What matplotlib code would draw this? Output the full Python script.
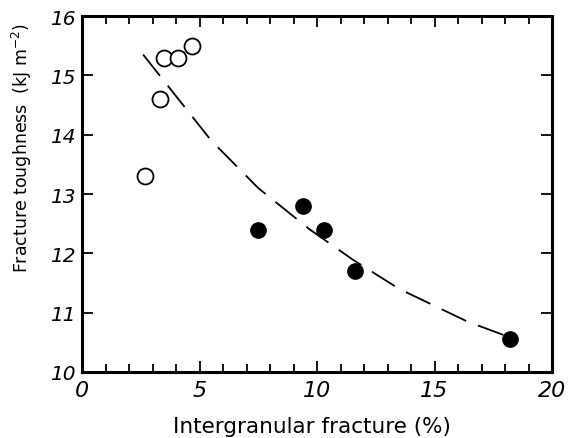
import matplotlib
matplotlib.use("Agg")
import matplotlib.pyplot as plt
from matplotlib.ticker import MultipleLocator

# open circles
open_x = [2.7, 3.3, 3.5, 4.1, 4.7]
open_y = [13.3, 14.6, 15.3, 15.3, 15.5]

# filled circles
fill_x = [7.5, 9.4, 10.3, 11.6, 18.2]
fill_y = [12.4, 12.8, 12.4, 11.7, 10.55]

# dashed trend line
curve_x = [2.6, 3.7, 5.5, 7.5, 9.7, 11.5, 13.5, 16.4, 18.1]
curve_y = [15.35, 14.8, 13.9, 13.1, 12.4, 11.9, 11.4, 10.85, 10.6]

fig = plt.figure(figsize=(5.72, 4.39), dpi=100)
ax = fig.add_axes([82 / 572, 1 - 373 / 439, 470 / 572, 356 / 439])

ax.plot(curve_x, curve_y, color='black', lw=1.3, dashes=(15, 7))
ax.plot(open_x, open_y, 'o', ms=11.5, mfc='white', mec='black', mew=1.3)
ax.plot(fill_x, fill_y, 'o', ms=11, mfc='black', mec='black')

ax.set_xlim(0, 20)
ax.set_ylim(10, 16)
ax.xaxis.set_major_locator(MultipleLocator(5))
ax.xaxis.set_minor_locator(MultipleLocator(1))
ax.yaxis.set_major_locator(MultipleLocator(1))
ax.tick_params(which='both', direction='in', top=True, right=True, width=1.3)
ax.tick_params(which='major', length=8)
ax.tick_params(which='minor', length=6)
ax.tick_params(axis='x', labelsize=16, pad=6)
ax.tick_params(axis='y', labelsize=14.5, pad=5)
for lab in ax.get_xticklabels() + ax.get_yticklabels():
    lab.set_fontstyle('italic')
for s in ax.spines.values():
    s.set_linewidth(2.2)

ax.set_xlabel('Intergranular fracture (%)', fontsize=15.5)
ax.set_ylabel('Fracture toughness  (kJ m$^{-2}$)', fontsize=12.5)
ax.xaxis.set_label_coords(0.49, -0.124)
ax.yaxis.set_label_coords(-0.102, 0.632)

fig.savefig('out.png', dpi=100)
